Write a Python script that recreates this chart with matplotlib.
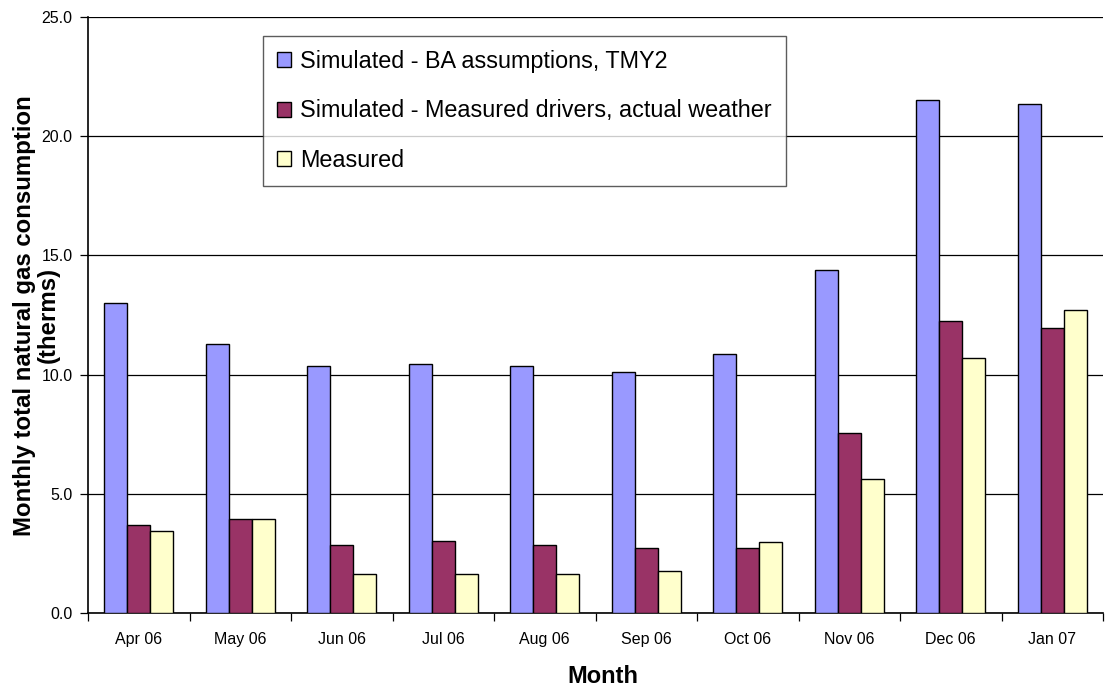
import matplotlib
matplotlib.use("Agg")
import matplotlib.pyplot as plt
import numpy as np

plt.rcParams['font.family'] = ['Liberation Sans', 'DejaVu Sans']

months = ["Apr 06", "May 06", "Jun 06", "Jul 06", "Aug 06", "Sep 06",
          "Oct 06", "Nov 06", "Dec 06", "Jan 07"]
sim_ba = [13.0, 11.27, 10.38, 10.43, 10.38, 10.09, 10.88, 14.37, 21.53, 21.33]
sim_measured = [3.68, 3.96, 2.84, 3.04, 2.84, 2.73, 2.73, 7.56, 12.25, 11.95]
measured = [3.43, 3.96, 1.62, 1.62, 1.62, 1.76, 2.99, 5.60, 10.68, 12.73]
series_labels = ["Simulated - BA assumptions, TMY2",
                 "Simulated - Measured drivers, actual weather",
                 "Measured"]
colors = ["#9999FF", "#993366", "#FFFFCC"]
ylabel_lines = ["Monthly total natural gas consumption", "(therms)"]

fig = plt.figure(figsize=(11.15, 6.88), dpi=100)
ax = fig.add_axes([88/1115, 75/688, 1015/1115, 596/688])

x = np.arange(len(months))
w = 0.228
for i, (vals, lab, c) in enumerate(zip([sim_ba, sim_measured, measured], series_labels, colors)):
    ax.bar(x + (i - 1) * w, vals, width=w, color=c, edgecolor='black',
           linewidth=1.0, label=lab, zorder=3)

ax.set_xlim(-0.5, len(months) - 0.5)
ax.set_ylim(0, 25)
ax.set_yticks(np.arange(0, 25.1, 5))
ax.set_yticklabels([f"{v:.1f}" for v in np.arange(0, 25.1, 5)], fontsize=11.5)
ax.yaxis.grid(True, color='black', linewidth=0.9, zorder=0)
ax.set_axisbelow(True)

ax.set_xticks(x)
ax.set_xticklabels(months, fontsize=11.5)
ax.tick_params(axis='x', length=0, pad=13.5)
ax.set_xticks(np.arange(-0.5, len(months), 1), minor=True)
ax.tick_params(axis='x', which='minor', length=6, width=0.9, direction='out')
ax.tick_params(axis='y', length=6, width=0.9, direction='out', pad=5)

for s in ['top', 'right']:
    ax.spines[s].set_visible(False)
ax.spines['left'].set_linewidth(1.2)
ax.spines['bottom'].set_linewidth(1.2)

ax.set_xlabel("Month", fontsize=17, fontweight='bold')
ax.xaxis.set_label_coords(0.507, -0.087)

# two-line y label drawn as two separate texts
ax.text(-0.0621, 0.499, ylabel_lines[0], transform=ax.transAxes, rotation=90,
        ha='center', va='center', fontsize=17.3, fontweight='bold')
ax.text(-0.0394, 0.5, ylabel_lines[1], transform=ax.transAxes, rotation=90,
        ha='center', va='center', fontsize=17.3, fontweight='bold')

leg = ax.legend(loc='upper left', bbox_to_anchor=(0.1724, 0.968), fontsize=16.8,
                frameon=True, fancybox=False, edgecolor='#333333',
                handlelength=0.6, handleheight=0.6, handletextpad=0.4,
                labelspacing=1.13, borderpad=0.6, borderaxespad=0)
leg.get_frame().set_linewidth(1.0)
leg.set_zorder(5)

fig.savefig("out.png", dpi=100)
